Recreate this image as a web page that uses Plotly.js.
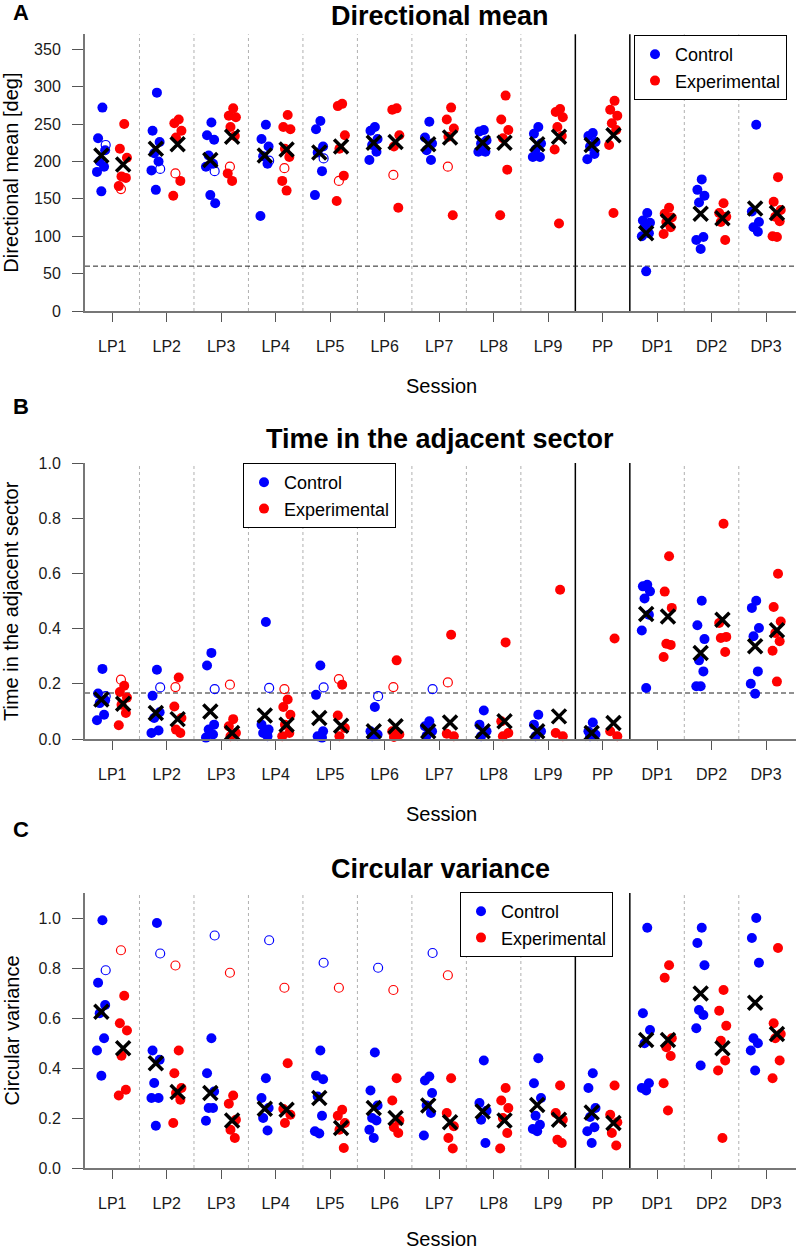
<!DOCTYPE html>
<html>
<head>
<meta charset="utf-8">
<script src="https://cdn.plot.ly/plotly-3.0.1.min.js"></script>
<style>html,body{margin:0;padding:0;background:#fff;}#chart{width:798px;height:1252px;}</style>
</head>
<body>
<div id="chart"></div>
<script>
const sessions = ['LP1','LP2','LP3','LP4','LP5','LP6','LP7','LP8','LP9','PP','DP1','DP2','DP3'];

// Panel A: Directional mean [deg]
const dirControl = [
  [272,231,215,200,193,186,160],[292,241,226,211,200,188,162],[252,235,229,208,197,193,155,144],
  [249,230,220,207,197,127],[254,243,220,212,187,155],[246,241,230,222,213,202],
  [253,232,224,215,202],[242,240,228,224,213,213],[246,237,224,216,206,206],
  [238,234,226,220,210,203],[131,121,118,112,104,100,53],[176,162,154,145,99,95,83],[249,133,119,112,106]
];
const dirExperimental = [
  [250,217,205,180,178,167],[256,251,241,232,174,154],[271,261,259,246,234,184,174],
  [262,246,243,217,206,174,161],[277,274,235,217,181,147],[271,269,235,220,138],
  [272,256,244,233,128],[288,256,242,231,189,128],[270,266,259,246,234,216,117],
  [281,269,261,251,242,222,131],[138,130,125,119,112,103],[144,131,126,119,95],[179,146,135,126,120,100,99]
];
const dirControlOpen = [222,190,187,201,204,null,null,null,null,null,null,null,null];
const dirExperimentalOpen = [163,184,193,191,174,182,193,null,null,null,null,null,null];
const dirControlMean = [208,217,202,208,212,225,223,225,223,222,104,130,137];
const dirExperimentalMean = [196,223,233,216,220,226,232,225,233,235,120,124,131];

// Panel B: Time in the adjacent sector
const timeControl = [
  [0.254,0.165,0.14,0.13,0.088,0.068],[0.251,0.157,0.097,0.076,0.031,0.022],[0.312,0.266,0.052,0.034,0.016,0.005],
  [0.424,0.052,0.034,0.022,0.01],[0.266,0.16,0.028,0.01,0.005],[0.116,0.028,0.016,0.01],
  [0.064,0.046,0.028,0.012],[0.103,0.052,0.028,0.01],[0.088,0.052,0.028,0.01],
  [0.06,0.028,0.016,0.01],[0.559,0.553,0.535,0.509,0.45,0.393,0.185],[0.501,0.412,0.362,0.285,0.245,0.191,0.191],
  [0.501,0.475,0.402,0.372,0.245,0.2,0.164]
];
const timeExperimental = [
  [0.193,0.17,0.15,0.124,0.094,0.05],[0.223,0.118,0.076,0.034,0.022],[0.072,0.046,0.022,0.01],
  [0.143,0.116,0.088,0.052,0.022,0.01],[0.197,0.085,0.04,0.01],[0.285,0.028,0.016,0.007],
  [0.378,0.019,0.01],[0.35,0.064,0.022,0.01],[0.541,0.022,0.01],
  [0.364,0.028,0.01],[0.662,0.534,0.475,0.345,0.341,0.297],[0.78,0.42,0.37,0.366,0.315],
  [0.599,0.478,0.426,0.384,0.354,0.32,0.208]
];
const timeControlOpen = [0.155,0.187,0.181,0.185,0.187,0.155,0.181,null,null,null,null,null,null];
const timeExperimentalOpen = [0.215,0.188,0.197,0.181,0.217,0.188,0.205,null,null,null,null,null,null];
const timeControlMean = [0.143,0.094,0.1,0.085,0.076,0.028,0.028,0.028,0.028,0.022,0.453,0.312,0.336];
const timeExperimentalMean = [0.128,0.072,0.022,0.052,0.048,0.046,0.06,0.064,0.082,0.058,0.444,0.432,0.394];

// Panel C: Circular variance
const varControl = [
  [0.991,0.741,0.652,0.619,0.519,0.47,0.369],[0.98,0.47,0.433,0.34,0.28,0.28,0.169],[0.519,0.379,0.306,0.24,0.24,0.189],
  [0.359,0.28,0.24,0.2,0.15],[0.47,0.369,0.355,0.286,0.209,0.147,0.138],[0.462,0.31,0.25,0.2,0.19,0.153,0.12],
  [0.366,0.35,0.3,0.25,0.22,0.13],[0.43,0.26,0.229,0.193,0.1],[0.439,0.339,0.28,0.209,0.173,0.156,0.147],
  [0.379,0.32,0.24,0.204,0.163,0.147,0.1],[0.961,0.619,0.552,0.499,0.339,0.32,0.31],[0.961,0.9,0.811,0.632,0.612,0.559,0.41],
  [1.0,0.92,0.821,0.519,0.499,0.47,0.39]
];
const varExperimental = [
  [0.689,0.579,0.55,0.449,0.313,0.29],[0.47,0.379,0.32,0.3,0.273,0.18],[0.29,0.257,0.193,0.153,0.12],
  [0.419,0.236,0.213,0.18],[0.233,0.209,0.18,0.153,0.08],[0.359,0.27,0.19,0.163,0.14],
  [0.359,0.22,0.167,0.12,0.078],[0.32,0.27,0.24,0.2,0.14,0.078],[0.33,0.22,0.193,0.113,0.1],
  [0.33,0.213,0.183,0.14,0.09],[0.811,0.761,0.519,0.483,0.448,0.339,0.23],[0.712,0.629,0.569,0.509,0.43,0.39,0.12],
  [0.88,0.579,0.536,0.519,0.43,0.359]
];
const varControlOpen = [0.791,0.858,0.93,0.911,0.821,0.801,0.86,null,null,null,null,null,null];
const varExperimentalOpen = [0.871,0.81,0.781,0.721,0.721,0.712,0.771,null,null,null,null,null,null];
const varControlMean = [0.625,0.419,0.3,0.237,0.28,0.24,0.25,0.226,0.252,0.222,0.512,0.698,0.661];
const varExperimentalMean = [0.479,0.304,0.19,0.233,0.16,0.2,0.183,0.19,0.193,0.18,0.512,0.479,0.536];

// ---------- rendering ----------
const W = 798, H = 1252;
const px = x => x / W, py = y => 1 - y / H;
const JIT = [0.02,-0.06,0.07,-0.03,0.05,-0.08,0.0,0.09];
const OFF_C = -0.2, OFF_E = 0.2;
const BLUE = '#0000FF', RED = '#FF0000';

function flatten(groups, off) {
  const x = [], y = [];
  groups.forEach((g, i) => g.forEach((v, j) => { x.push(i + off + JIT[j % JIT.length]); y.push(v); }));
  return {x, y};
}
function opens(vals, off) {
  const x = [], y = [];
  vals.forEach((v, i) => { if (v !== null) { x.push(i + off); y.push(v); } });
  return {x, y};
}

const panels = [
  {c: dirControl, e: dirExperimental, co: dirControlOpen, eo: dirExperimentalOpen, cm: dirControlMean, em: dirExperimentalMean,
   ref: 60, top: 34.3, bot: 311, range: [0, 370], tickvals: [0,50,100,150,200,250,300,350], fmt: 'd',
   letter: 'A', title: 'Directional mean', ytitle: 'Directional mean [deg]', letterY: 12, titleY: 16, sessY: 386,
   legend: {x: 634, y: 35}},
  {c: timeControl, e: timeExperimental, co: timeControlOpen, eo: timeExperimentalOpen, cm: timeControlMean, em: timeExperimentalMean,
   ref: 1/6, top: 463, bot: 739, range: [0, 1], tickvals: [0,0.2,0.4,0.6,0.8,1.0], fmt: '.1f',
   letter: 'B', title: 'Time in the adjacent sector', ytitle: 'Time in the adjacent sector', letterY: 407, titleY: 439, sessY: 814,
   legend: {x: 243, y: 463}},
  {c: varControl, e: varExperimental, co: varControlOpen, eo: varExperimentalOpen, cm: varControlMean, em: varExperimentalMean,
   ref: null, top: 893, bot: 1168, range: [0, 1.1], tickvals: [0,0.2,0.4,0.6,0.8,1.0], fmt: '.1f',
   letter: 'C', title: 'Circular variance', ytitle: 'Circular variance', letterY: 829, titleY: 869, sessY: 1239,
   legend: {x: 460, y: 892}}
];

const traces = [], shapes = [], annotations = [];
const layout = {
  width: W, height: H, margin: {l: 0, r: 0, t: 0, b: 0},
  paper_bgcolor: '#fff', plot_bgcolor: '#fff', showlegend: true,
  font: {family: 'Liberation Sans, Arial, sans-serif', color: '#000'}
};
const plotL = 85, plotR = 796;

panels.forEach((p, k) => {
  const sfx = k === 0 ? '' : String(k + 1);
  const xa = 'x' + sfx, ya = 'y' + sfx;
  const leg = 'legend' + sfx;
  const clip = k !== 1;

  const fc = flatten(p.c, OFF_C), fe = flatten(p.e, OFF_E);
  traces.push({type: 'scatter', mode: 'markers', x: fc.x, y: fc.y, xaxis: xa, yaxis: ya, name: 'Control',
    legend: leg, showlegend: true, cliponaxis: clip, hoverinfo: 'skip',
    marker: {color: BLUE, size: 10, line: {width: 0}}});
  traces.push({type: 'scatter', mode: 'markers', x: fe.x, y: fe.y, xaxis: xa, yaxis: ya, name: 'Experimental',
    legend: leg, showlegend: true, cliponaxis: clip, hoverinfo: 'skip',
    marker: {color: RED, size: 10, line: {width: 0}}});
  const oc = opens(p.co, OFF_C + 0.08), oe = opens(p.eo, OFF_E - 0.04);
  traces.push({type: 'scatter', mode: 'markers', x: oc.x, y: oc.y, xaxis: xa, yaxis: ya, showlegend: false,
    cliponaxis: clip, hoverinfo: 'skip', marker: {symbol: 'circle-open', color: BLUE, size: 9, line: {width: 1.2, color: BLUE}}});
  traces.push({type: 'scatter', mode: 'markers', x: oe.x, y: oe.y, xaxis: xa, yaxis: ya, showlegend: false,
    cliponaxis: clip, hoverinfo: 'skip', marker: {symbol: 'circle-open', color: RED, size: 9, line: {width: 1.2, color: RED}}});
  const mx = [], my = [];
  p.cm.forEach((v, i) => { mx.push(i + OFF_C); my.push(v); });
  p.em.forEach((v, i) => { mx.push(i + OFF_E); my.push(v); });
  traces.push({type: 'scatter', mode: 'markers', x: mx, y: my, xaxis: xa, yaxis: ya, showlegend: false,
    cliponaxis: false, hoverinfo: 'skip', marker: {symbol: 'x-thin-open', color: '#000', size: 14, line: {width: 3.5, color: '#000'}}});

  layout['xaxis' + sfx] = {
    domain: [px(plotL), px(plotR)], range: [-0.5, 12.55], anchor: ya,
    tickmode: 'array', tickvals: sessions.map((s, i) => i), ticktext: sessions,
    ticks: 'outside', ticklen: 9, tickwidth: 1, tickcolor: '#555', ticklabelstandoff: 11,
    showline: true, linecolor: '#777', linewidth: 2, showgrid: false, zeroline: false,
    tickfont: {size: 16, color: '#1a1a1a'}, fixedrange: true
  };
  layout['yaxis' + sfx] = {
    domain: [py(p.bot), py(p.top)], range: p.range, anchor: xa,
    tickmode: 'array', tickvals: p.tickvals, tickformat: p.fmt,
    ticks: 'outside', ticklen: 11, tickwidth: 1, tickcolor: '#555', ticklabelstandoff: 8,
    showline: true, linecolor: '#777', linewidth: 2, showgrid: false, zeroline: false,
    tickfont: {size: 16, color: '#1a1a1a'}, fixedrange: true
  };
  layout[leg] = {
    x: px(p.legend.x), y: py(p.legend.y), xanchor: 'left', yanchor: 'top',
    bgcolor: '#fff', bordercolor: '#000', borderwidth: 1,
    font: {size: 18, color: '#000'}, itemwidth: 30, tracegroupgap: 0
  };

  // session separators
  sessions.forEach((s, i) => {
    if (i === sessions.length - 1) return;
    const solid = (i === 8 || i === 9);
    shapes.push({type: 'line', xref: xa, yref: ya + ' domain', x0: i + 0.5, x1: i + 0.5, y0: 0, y1: 1,
      line: solid ? {color: '#000', width: 1.5} : {color: '#b0b0b0', width: 1, dash: 'dot'}, layer: 'below'});
  });
  if (p.ref !== null) {
    shapes.push({type: 'line', xref: xa + ' domain', yref: ya, x0: 0, x1: 1, y0: p.ref, y1: p.ref,
      line: {color: '#222', width: 1, dash: '5px,3px'}, layer: 'below'});
  }

  annotations.push({xref: 'paper', yref: 'paper', x: px(20.5), y: py(p.letterY), text: '<b>' + p.letter + '</b>',
    showarrow: false, xanchor: 'center', yanchor: 'middle', font: {size: 22, color: '#000'}});
  annotations.push({xref: 'paper', yref: 'paper', x: px((plotL + plotR) / 2), y: py(p.titleY), text: '<b>' + p.title + '</b>',
    showarrow: false, xanchor: 'center', yanchor: 'middle', font: {size: 27, color: '#000'}});
  annotations.push({xref: 'paper', yref: 'paper', x: px(11), y: py((p.top + p.bot) / 2), text: p.ytitle, textangle: -90,
    showarrow: false, xanchor: 'center', yanchor: 'middle', font: {size: 20, color: '#000'}});
  annotations.push({xref: 'paper', yref: 'paper', x: px(441), y: py(p.sessY), text: 'Session',
    showarrow: false, xanchor: 'center', yanchor: 'middle', font: {size: 20, color: '#000'}});
});

layout.shapes = shapes;
layout.annotations = annotations;
Plotly.newPlot('chart', traces, layout, {staticPlot: true, displayModeBar: false});
</script>
</body>
</html>
